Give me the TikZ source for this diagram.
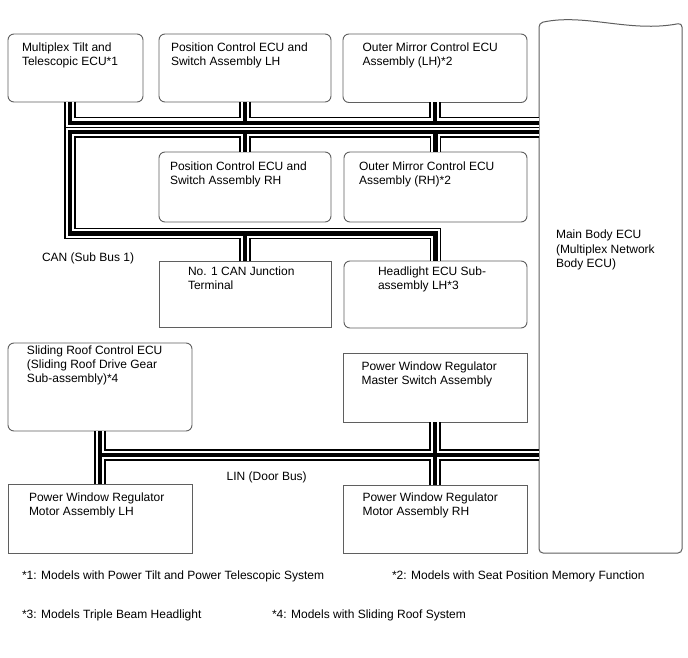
\documentclass[tikz,border=0pt]{standalone}
\usepackage{fontspec}
\setmainfont{Liberation Sans}
\usetikzlibrary{calc}
\definecolor{boxgray}{RGB}{95,95,95}
\newcommand\mlines[1]{\begin{tabular}[t]{@{}l@{}}#1\end{tabular}}
\begin{document}
\begin{tikzpicture}[x=1pt,y=-1pt,
  every node/.style={inner sep=0pt, outer sep=0pt},
  rbox/.style={draw=boxgray, line width=0.9pt, rounded corners=6pt, fill=white, anchor=north west},
  sbox/.style={draw=boxgray, line width=0.9pt, fill=white, anchor=north west},
  txt/.style={anchor=base west, font=\fontsize{12}{14.2}\selectfont, text=black},
  mtxt/.style={anchor=base west, font=\fontsize{12}{14.7}\selectfont, text=black}]
\useasboundingbox[fill=white] (0,0) rectangle (688,658);

% Main Body ECU outline
\draw[boxgray, line width=1pt, fill=white, rounded corners=4pt]
  (539,23) .. controls (585,13) and (630,33) .. (682,23) -- (682,553) -- (539,553) -- cycle;
\node[anchor=north west, minimum width=143pt, minimum height=530pt] (mbe) at (539,23) {};
\node[mtxt] (tmbe) at (556,238.3) {\mlines{Main Body ECU\\(Multiplex Network\\Body ECU)}};

% boxes
\node[rbox, minimum width=135pt, minimum height=68pt] (mtt) at (8,34) {};
\node[rbox, minimum width=172pt, minimum height=68pt] (pl) at (159,34) {};
\node[rbox, minimum width=184pt, minimum height=68.5pt] (ml) at (343,34) {};
\node[rbox, minimum width=172pt, minimum height=70pt] (pr) at (159,152) {};
\node[rbox, minimum width=183pt, minimum height=70pt] (mr) at (344,152) {};
\node[sbox, minimum width=172pt, minimum height=66pt] (jt) at (159,261) {};
\node[rbox, minimum width=183pt, minimum height=67pt] (hl) at (344,261) {};
\node[rbox, minimum width=184pt, minimum height=88pt] (sr) at (8,343) {};
\node[sbox, minimum width=184pt, minimum height=69pt] (ms) at (343,353) {};
\node[sbox, minimum width=184pt, minimum height=69pt] (mwl) at (8,484) {};
\node[sbox, minimum width=184pt, minimum height=68pt] (mwr) at (343,485) {};

% box texts
\node[txt] (tmtt) at (22,51.7) {\mlines{Multiplex Tilt and\\Telescopic ECU*1}};
\node[txt] (tpl) at (171,51.7) {\mlines{Position Control ECU and\\Switch Assembly LH}};
\node[txt] (tml) at (362.5,51.7) {\mlines{Outer Mirror Control ECU\\Assembly (LH)*2}};
\node[txt] (tpr) at (170,170.7) {\mlines{Position Control ECU and\\Switch Assembly RH}};
\node[txt] (tmr) at (359,170.5) {\mlines{Outer Mirror Control ECU\\Assembly (RH)*2}};
\node[txt] (tjt) at (188,275) {\mlines{No. 1 CAN Junction\\Terminal}};
\node[txt] (thl) at (378,275) {\mlines{Headlight ECU Sub-\\assembly LH*3}};
\node[txt] (tsr) at (27,354) {\mlines{Sliding Roof Control ECU\\(Sliding Roof Drive Gear\\Sub-assembly)*4}};
\node[txt] (tms) at (361.5,370) {\mlines{Power Window Regulator\\Master Switch Assembly}};
\node[txt] (tmwl) at (29,501.7) {\mlines{Power Window Regulator\\Motor Assembly LH}};
\node[txt] (tmwr) at (362.5,501.7) {\mlines{Power Window Regulator\\Motor Assembly RH}};

% bus coordinates
\coordinate (xL) at (70,0);
\coordinate (yCU) at (0,122.7);
\coordinate (yCL) at (0,132.3);
\coordinate (yCB) at (0,233.5);
\coordinate (yL) at (0,455);

% buses (outline, gap, core)
\foreach \w/\c in {11.5/black, 8.4/white, 4.2/black} {
  % CAN upper
  \draw[line width=\w pt, draw=\c] (mtt.south -| xL) |- (mbe.west |- yCU);
  \draw[line width=\w pt, draw=\c] (pl.south) -- (pl.south |- yCU);
  \draw[line width=\w pt, draw=\c] (ml.south) -- (ml.south |- yCU);
  % CAN lower
  \draw[line width=\w pt, draw=\c] (mbe.west |- yCL) -| (xL |- yCB) -| (hl.north);
  \draw[line width=\w pt, draw=\c] (pr.north) -- (pr.north |- yCL);
  \draw[line width=\w pt, draw=\c] (mr.north) -- (mr.north |- yCL);
  \draw[line width=\w pt, draw=\c] (jt.north) -- (jt.north |- yCB);
  % LIN
  \draw[line width=\w pt, draw=\c] (sr.south) -- (mwl.north);
  \draw[line width=\w pt, draw=\c] (sr.south |- yL) -- (mbe.west |- yL);
  \draw[line width=\w pt, draw=\c] (ms.south) -- (mwr.north);
}

% bus labels
\node[txt] (lcan) at (42,261.5) {CAN (Sub Bus 1)};
\node[txt] (llin) at (226.7,480.5) {LIN (Door Bus)};

% footnotes
\node[txt] (f1) at (22,579) {*1: Models with Power Tilt and Power Telescopic System};
\node[txt] (f2) at (392,579) {*2: Models with Seat Position Memory Function};
\node[txt] (f3) at (22,618) {*3: Models Triple Beam Headlight};
\node[txt] (f4) at (272,618) {*4: Models with Sliding Roof System};
\end{tikzpicture}
\end{document}
